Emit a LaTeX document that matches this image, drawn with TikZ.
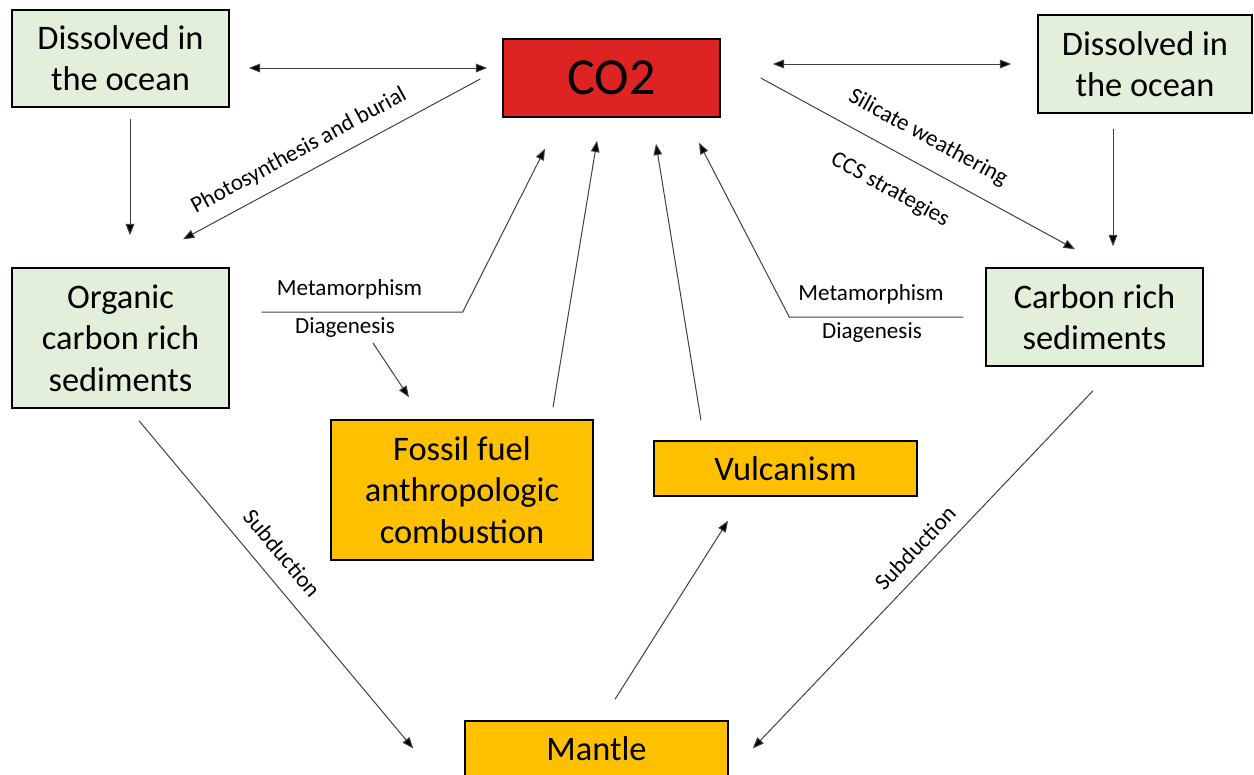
\documentclass[tikz,border=0pt]{standalone}
\usepackage{fontspec}
\setmainfont{Carlito}
\usetikzlibrary{arrows.meta}

\tikzset{every picture/.style={line width=0.75pt}}
\tikzset{
  boxtext/.style={draw, line width=1.1pt, align=center, inner sep=0pt, font=\fontsize{25.8}{31}\selectfont},
  greenbox/.style={boxtext, fill={rgb, 255:red, 226; green, 239; blue, 218}},
  redbox/.style={boxtext, fill={rgb, 255:red, 222; green, 35; blue, 35}, font=\fontsize{39}{44}\selectfont},
  orangebox/.style={boxtext, fill={rgb, 255:red, 255; green, 192; blue, 0}},
  lbl/.style={inner sep=0pt, font=\fontsize{17.3}{20}\selectfont},
  flow/.style={draw={rgb, 255:red, 64; green, 64; blue, 64}, line width=0.75pt, -{Triangle[length=8.5pt,width=6.5pt,fill=black]}},
  flowboth/.style={flow, {Triangle[length=8.5pt,width=6.5pt,fill=black]}-{Triangle[length=8.5pt,width=6.5pt,fill=black]}}
}

\begin{document}
\begin{tikzpicture}[x=0.75pt,y=0.75pt,yscale=-1,xscale=1]
\useasboundingbox (0,0) rectangle (1254,775);

% Boxes
\node[greenbox, minimum width=162.75pt, minimum height=72.75pt] (oceanL) at (120.5,58.5) {Dissolved in\\the ocean};
\node[redbox, minimum width=162.75pt, minimum height=58.5pt] (co2) at (611.5,78) {CO2};
\node[greenbox, minimum width=160.5pt, minimum height=73.5pt] (oceanR) at (1145,64) {Dissolved in\\the ocean};
\node[greenbox, minimum width=162.75pt, minimum height=105pt] (orgsed) at (120.5,338) {Organic\\carbon rich\\sediments};
\node[greenbox, minimum width=162.75pt, minimum height=73.5pt] (carbsed) at (1094.5,317) {Carbon rich\\sediments};
\node[orangebox, minimum width=196.5pt, minimum height=105pt] (fossil) at (462,490) {Fossil fuel\\anthropologic\\combustion};
\node[orangebox, minimum width=197.25pt, minimum height=41.25pt] (vulc) at (785.5,468.5) {Vulcanism};
\node[orangebox, minimum width=197.25pt, minimum height=41.25pt] (mantle) at (596.5,748.5) {Mantle};

% Labels
\node[lbl, rotate=28.4] (photo) at (299,151) {Photosynthesis and burial};
\node[lbl, rotate=-28.6] (silw) at (928,138) {Silicate weathering};
\node[lbl, rotate=-28.6] (ccs) at (890,190) {CCS strategies};
\node[lbl] (metaL) at (349.5,289) {Metamorphism};
\node[lbl] (diagL) at (345,328) {Diagenesis};
\node[lbl] (metaR) at (871,294) {Metamorphism};
\node[lbl] (diagR) at (872,333) {Diagenesis};
\node[lbl, rotate=-50] (subL) at (282,553) {Subduction};
\node[lbl, rotate=46.4] (subR) at (915,548) {Subduction};

% Exchange with the ocean
\draw[flowboth] ([shift={(19,9.5)}]oceanL.east) -- ([shift={(-15,-10)}]co2.west);
\draw[flowboth] ([shift={(52,-14)}]co2.east) -- ([shift={(-26,0)}]oceanR.west);
\draw[flow] ([shift={(9.5,11)}]oceanL.south) -- ([shift={(9.5,-32)}]orgsed.north);
\draw[flow] ([shift={(-32,15)}]oceanR.south) -- ([shift={(18.5,-21)}]carbsed.north);

% Uptake from CO2
\draw[flow] ([shift={(-22,1)}]co2.west) -- ([shift={(62.5,-28)}]orgsed.north);
\draw[flow] ([shift={(40,0)}]co2.east) -- ([shift={(-19.5,-18)}]carbsed.north);

% Release to CO2
\draw[flow] ([shift={(32,-26)}]orgsed.east) -- ++(201,0) -- ([shift={(-66.5,31)}]co2.south);
\draw[flow] ([shift={(28,15)}]diagL.center) -- ([shift={(-53,-22)}]fossil.north);
\draw[flow] ([shift={(91,-12)}]fossil.north) -- ([shift={(-14.5,23)}]co2.south);
\draw[flow] ([shift={(-84.5,-20)}]vulc.north) -- ([shift={(44.5,26)}]co2.south);
\draw[flow] ([shift={(-22,0)}]carbsed.west) -- ++(-174,0) -- ([shift={(87.5,25)}]co2.south);

% Subduction
\draw[flow] ([shift={(18.5,12)}]orgsed.south) -- ([shift={(-51,0)}]mantle.west);
\draw[flow] ([shift={(-1.5,24)}]carbsed.south) -- ([shift={(24,0)}]mantle.east);
\draw[flow] ([shift={(18.5,-21)}]mantle.north) -- ([shift={(-57.5,24)}]vulc.south);
\end{tikzpicture}
\end{document}
